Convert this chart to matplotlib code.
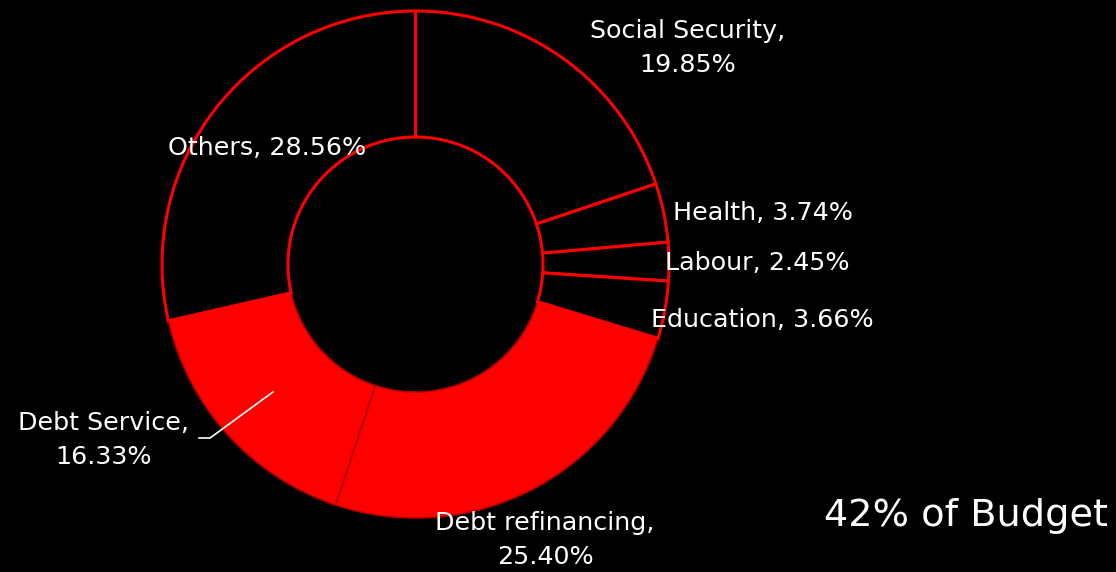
import matplotlib.pyplot as plt

labels = ['Social Security', 'Health', 'Labour', 'Education',
          'Debt refinancing', 'Debt Service', 'Others']
shares = [19.85, 3.74, 2.45, 3.66, 25.40, 16.33, 28.56]
is_debt = [False, False, False, False, True, True, False]

W, H = 1116, 572
fig = plt.figure(figsize=(W / 100, H / 100), dpi=100, facecolor='black')
ax = fig.add_axes([0, 0, 1, 1])
ax.set_facecolor('black')

cx, cy, R = 415.5, H - 264.5, 253.5
fills = ['#ff0000' if d else 'black' for d in is_debt]
wedges, _ = ax.pie(shares, colors=fills, startangle=90, counterclock=False,
                   radius=R, center=(cx, cy), frame=True,
                   wedgeprops=dict(width=R * 0.497, linewidth=2.2, edgecolor='#ff0000'))
for w, d in zip(wedges, is_debt):
    if d:
        w.set_edgecolor('#b00000')
        w.set_linewidth(1.2)
        w.set_zorder(0.5)

ax.set_xlim(0, W)
ax.set_ylim(0, H)
ax.set_aspect('equal')
ax.axis('off')

font = 'DejaVu Sans'
fs = 18.3
txt = dict(color='white', fontsize=fs, family=font, ha='center', va='center',
           linespacing=1.5)
pos = [(688, 48), (763, 213), (757, 263), (762, 320),
       (545, 540), (104, 440), (267, 148)]
texts = [f'{labels[0]},\n{shares[0]:.2f}%',
         f'{labels[1]}, {shares[1]:.2f}%',
         f'{labels[2]}, {shares[2]:.2f}%',
         f'{labels[3]}, {shares[3]:.2f}%',
         f'{labels[4]},\n{shares[4]:.2f}%',
         f'{labels[5]},\n{shares[5]:.2f}%',
         f'{labels[6]}, {shares[6]:.2f}%']
for (x, y), t in zip(pos, texts):
    ax.text(x, H - y, t, **txt)

# leader line for Debt Service
ax.plot([199, 210, 273], [H - 438, H - 438, H - 392], color='white', lw=1.2)

ax.text(966, H - 516, '42% of Budget', color='white', fontsize=27.5,
        family=font, ha='center', va='center')

fig.savefig('out.png', dpi=100, facecolor='black')
